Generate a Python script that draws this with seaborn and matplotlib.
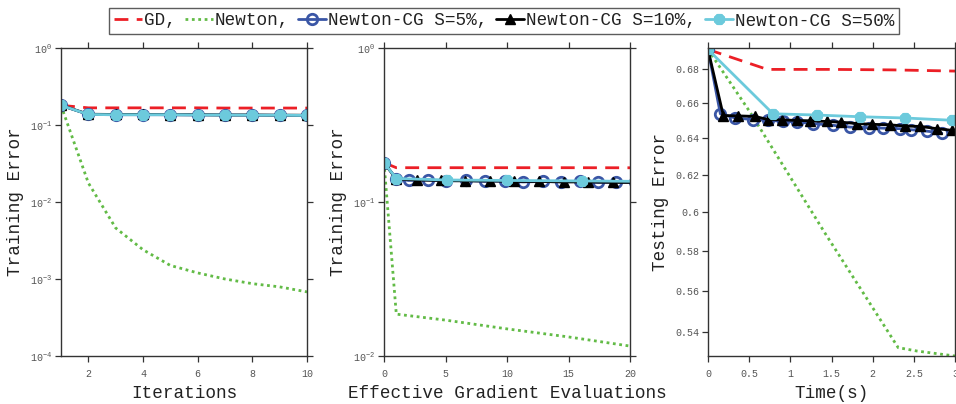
import numpy as np
import pandas as pd
import matplotlib
matplotlib.use("Agg")
import matplotlib.pyplot as plt
import matplotlib.ticker as mticker
import seaborn as sns

sns.set_style("ticks")
plt.rcParams["font.family"] = ["Liberation Mono", "DejaVu Sans Mono"]
plt.rcParams["mathtext.fontset"] = "custom"
plt.rcParams["mathtext.rm"] = "Liberation Mono"
plt.rcParams["mathtext.it"] = "Liberation Mono"
plt.rcParams["mathtext.bf"] = "Liberation Mono"
plt.rcParams["axes.unicode_minus"] = False

# ---- series names ----
labels = ["GD,", "Newton,", "Newton-CG S=5%,", "Newton-CG S=10%,", "Newton-CG S=50%"]

# ---- panel 1: training error vs iterations ----
iters = [1, 2, 3, 4, 5, 6, 7, 8, 9, 10]
it_gd = [0.18, 0.167, 0.167, 0.167, 0.167, 0.167, 0.166, 0.166, 0.166, 0.166]
it_newton = [0.18, 0.0177, 0.0046, 0.0024, 0.0015, 0.0012, 0.0010, 0.00087, 0.00079, 0.00068]
it_s5 = [0.18, 0.137, 0.136, 0.136, 0.136, 0.135, 0.135, 0.134, 0.134, 0.133]
it_s10 = [0.18, 0.138, 0.137, 0.137, 0.136, 0.136, 0.135, 0.135, 0.134, 0.134]
it_s50 = [0.18, 0.137, 0.136, 0.136, 0.136, 0.135, 0.135, 0.134, 0.134, 0.133]

# ---- panel 2: training error vs effective gradient evaluations ----
eg_gd_x = [0, 1, 5, 10, 15, 20]
eg_gd_y = [0.18, 0.167, 0.167, 0.167, 0.167, 0.1668]
eg_newton_x = [0, 1, 5, 10, 15, 20]
eg_newton_y = [0.18, 0.0187, 0.0171, 0.0150, 0.0133, 0.0116]
eg_s5_x = [0, 1.0, 2.0, 3.6, 5.0, 6.7, 8.2, 9.8, 11.3, 12.9, 14.4, 15.9, 17.4, 18.9, 20.4]
eg_s5_y = [0.18, 0.142, 0.138, 0.139, 0.137, 0.138, 0.136, 0.137, 0.135, 0.136, 0.135, 0.136,
           0.134, 0.135, 0.134]
eg_s10_x = [0, 1.0, 2.7, 4.6, 6.6, 8.6, 10.6, 12.6, 14.6, 16.6, 18.6, 20.6]
eg_s10_y = [0.18, 0.141, 0.139, 0.138, 0.137, 0.137, 0.136, 0.136, 0.135, 0.135, 0.134, 0.134]
eg_s50_x = [0, 1.0, 5.1, 10.0, 16.1, 21.5]
eg_s50_y = [0.18, 0.142, 0.139, 0.138, 0.137, 0.136]

# ---- panel 3: testing error vs time ----
t_gd_x = [0, 0.72, 1.5, 2.25, 3.0]
t_gd_y = [0.692, 0.6800, 0.6800, 0.6797, 0.6790]
t_newton_x = [0, 0.51, 1.42, 2.31, 2.54, 3.0]
t_newton_y = [0.692, 0.655, 0.589, 0.5326, 0.531, 0.5287]
t_s5_x = [0, 0.15, 0.33, 0.55, 0.73, 0.91, 1.08, 1.28, 1.52, 1.73, 1.95, 2.13, 2.33, 2.47,
          2.66, 2.84]
t_s5_y = [0.692, 0.654, 0.6516, 0.6507, 0.6503, 0.6497, 0.6493, 0.6484, 0.6474, 0.6464,
          0.6461, 0.6458, 0.6455, 0.6449, 0.6441, 0.6430]
t_s10_x = [0, 0.186, 0.37, 0.57, 0.73, 0.9, 1.08, 1.24, 1.44, 1.62, 1.81, 1.99, 2.21, 2.39,
           2.58, 2.78, 2.96]
t_s10_y = [0.692, 0.653, 0.6528, 0.6525, 0.6507, 0.6505, 0.6502, 0.6500, 0.6496, 0.6492,
           0.6484, 0.6480, 0.6477, 0.6470, 0.6468, 0.6455, 0.6446]
t_s50_x = [0, 0.79, 1.32, 1.85, 2.39, 2.96]
t_s50_y = [0.692, 0.654, 0.6533, 0.6523, 0.6516, 0.6503]

# ---- styles ----
RED = "#ec1f26"
GREEN = "#62bb46"
BLUE = "#3a56a6"
BLACK = "#000000"
CYAN = "#6ccadc"
AX_COL = "#333333"
TICK_COL = "#555555"

styles = [
    dict(color=RED, linestyle=(0, (5, 3)), linewidth=2.0),
    dict(color=GREEN, linestyle=(0, (1, 1.3)), linewidth=2.0),
    dict(color=BLUE, linewidth=2.0, marker="o", markersize=7.5, markerfacecolor="none",
         markeredgecolor=BLUE, markeredgewidth=2.0),
    dict(color=BLACK, linewidth=2.0, marker="^", markersize=7.5, markerfacecolor=BLACK,
         markeredgecolor=BLACK, markeredgewidth=1.0),
    dict(color=CYAN, linewidth=2.0, marker=(8, 2, 0), markersize=8, markerfacecolor=CYAN,
         markeredgecolor=CYAN, markeredgewidth=3.0),
]


def draw(ax, series):
    for (x, y), st, lab in zip(series, styles, labels):
        df = pd.DataFrame({"x": x, "y": y})
        sns.lineplot(data=df, x="x", y="y", ax=ax, sort=False, estimator=None,
                     label=lab, legend=False, **st)
    return ax.get_lines()


def style_axis(ax):
    for s in ax.spines.values():
        s.set_visible(True)
        s.set_color(AX_COL)
        s.set_linewidth(1.0)
    ax.tick_params(which="major", direction="out", length=4.5, width=0.9, color=AX_COL,
                   labelcolor=TICK_COL, labelsize=7.2, top=True, right=True,
                   labeltop=False, labelright=False)
    ax.tick_params(axis="x", pad=5)
    ax.tick_params(axis="y", pad=2)
    ax.tick_params(which="minor", length=0)
    ax.yaxis.set_minor_locator(mticker.NullLocator())
    ax.grid(False)


W, H = 956, 404
fig = plt.figure(figsize=(W / 100, H / 100), dpi=100)

def add_axes(left, right, top=48, bottom=356):
    return fig.add_axes([left / W, (H - bottom) / H, (right - left) / W, (bottom - top) / H])

ax1 = add_axes(61, 307)
ax2 = add_axes(384, 630)
ax3 = add_axes(708, 955)

label_fs = 12.7

# panel 1
draw(ax1, [(iters, it_gd), (iters, it_newton), (iters, it_s5), (iters, it_s10), (iters, it_s50)])
ax1.set_yscale("log")
ax1.set_xlim(1, 10)
ax1.set_ylim(1e-4, 1)
ax1.set_xticks([2, 4, 6, 8, 10])
ax1.yaxis.set_major_locator(mticker.LogLocator(base=10, numticks=10))
style_axis(ax1)
ax1.set_xlabel("Iterations", fontsize=label_fs, labelpad=4)
ax1.set_ylabel("Training Error", fontsize=label_fs, labelpad=4)

# panel 2
draw(ax2, [(eg_gd_x, eg_gd_y), (eg_newton_x, eg_newton_y), (eg_s5_x, eg_s5_y),
           (eg_s10_x, eg_s10_y), (eg_s50_x, eg_s50_y)])
ax2.set_yscale("log")
ax2.set_xlim(0, 20)
ax2.set_ylim(1e-2, 1)
ax2.set_xticks([0, 5, 10, 15, 20])
ax2.yaxis.set_major_locator(mticker.LogLocator(base=10, numticks=10))
style_axis(ax2)
ax2.set_xlabel("Effective Gradient Evaluations", fontsize=label_fs, labelpad=4)
ax2.set_ylabel("Training Error", fontsize=label_fs, labelpad=4)

# panel 3
draw(ax3, [(t_gd_x, t_gd_y), (t_newton_x, t_newton_y), (t_s5_x, t_s5_y),
           (t_s10_x, t_s10_y), (t_s50_x, t_s50_y)])
ax3.set_yscale("log")
ax3.set_xlim(0, 3)
ax3.set_ylim(0.5287, 0.6929)
ax3.set_xticks([0, 0.5, 1, 1.5, 2, 2.5, 3])
ax3.set_xticklabels(["0", "0.5", "1", "1.5", "2", "2.5", "3"])
yt3 = [0.54, 0.56, 0.58, 0.6, 0.62, 0.64, 0.66, 0.68]
ax3.yaxis.set_major_locator(mticker.FixedLocator(yt3))
ax3.yaxis.set_major_formatter(mticker.FixedFormatter([f"{v:g}" for v in yt3]))
style_axis(ax3)
ax3.set_xlabel("Time(s)", fontsize=label_fs, labelpad=4)
ax3.set_ylabel("Testing Error", fontsize=label_fs, labelpad=4)

for ax in (ax1, ax2, ax3):
    ax.xaxis.label.set_color("#222222")
    ax.yaxis.label.set_color("#222222")

handles = ax1.get_lines()[:5]
leg = fig.legend(handles, labels, loc="center", bbox_to_anchor=(504 / W, 1 - 21 / H),
                 ncol=5, frameon=True, fancybox=False, fontsize=label_fs,
                 handlelength=1.6, handletextpad=0.1, columnspacing=0.5,
                 borderpad=0.25, borderaxespad=0)
leg.get_frame().set_edgecolor(AX_COL)
leg.get_frame().set_linewidth(1.0)
for t in leg.get_texts():
    t.set_color("#222222")

fig.savefig("out.png", dpi=100)
